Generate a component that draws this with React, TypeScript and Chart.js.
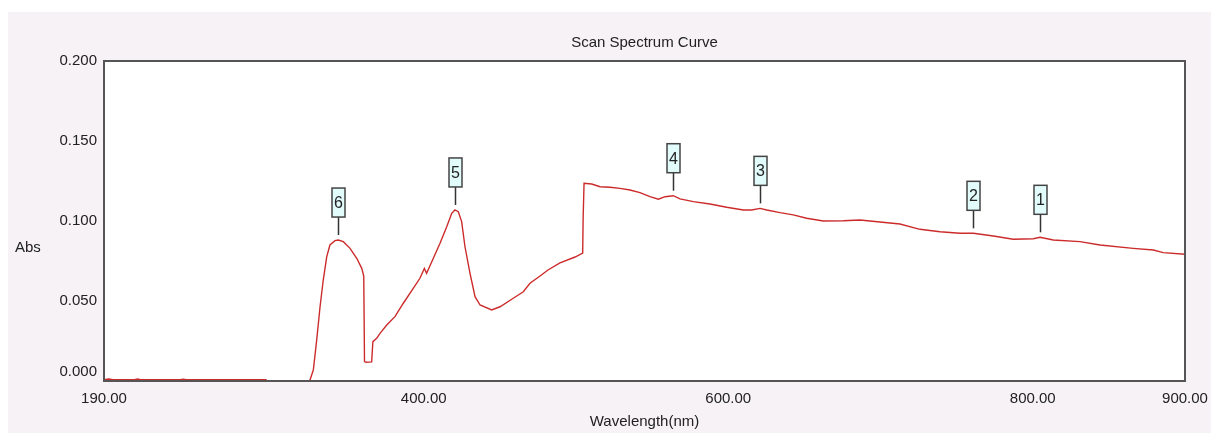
import React, { useEffect, useRef } from 'react';
import { Chart, registerables } from 'chart.js';

Chart.register(...registerables);

const wavelengths = [
  190, 193, 196, 210, 212, 214, 240, 242, 244, 270, 296.4, 296.6, 310, 324.5,
  325.3, 327.5, 329.7, 331.9, 334.0, 336.3, 338.4, 341.7, 343.9, 347.2, 351.6, 356.0, 359.3, 360.6,
  361.1, 362.1, 365.8, 366.6, 369.1, 371.3, 375.7, 381.1, 386.6, 393.1, 397.5, 400.4, 401.9,
  406.3, 410.7, 415.1, 418.4, 420.5, 422.7, 424.9, 427.1, 430.4, 433.7, 437.0, 444.6, 450.1,
  458.8, 465.4, 469.8, 476.4, 481.6, 489.5, 499.4, 504.4, 504.7, 505.3, 510.3, 515.8, 522.3,
  528.9, 535.5, 542.0, 548.6, 554.1, 558.5, 563.9, 568.3, 577.1, 588.0, 599.0, 609.9, 615.4,
  620.9, 625.3, 634.0, 642.7, 651.5, 662.4, 675.6, 686.5, 712.8, 725.9, 739.1, 752.2, 761.0,
  774.1, 787.2, 800.4, 804.8, 813.5, 831.0, 844.2, 866.0, 879.2, 885.7, 900,
];

const absorbance = [
  0.0008, 0.0012, 0.0008, 0.0008, 0.0012, 0.0008, 0.0008, 0.0011, 0.0008, 0.0008, 0.0008, -0.006, -0.008, -0.004,
  0.0006, 0.0069, 0.0256, 0.0464, 0.0631, 0.0777, 0.085, 0.0877, 0.0881, 0.0871, 0.0829, 0.0767, 0.0704, 0.0656,
  0.0121, 0.0117, 0.0119, 0.0246, 0.0267, 0.0298, 0.035, 0.0402, 0.0486, 0.0579, 0.0642, 0.0704, 0.0673,
  0.0767, 0.0861, 0.0964, 0.1048, 0.1069, 0.1058, 0.0996, 0.0839, 0.0673, 0.0527, 0.0475, 0.0444, 0.0464,
  0.0517, 0.0558, 0.0611, 0.0656, 0.0694, 0.0738, 0.0775, 0.08, 0.102, 0.1236, 0.1231, 0.1214, 0.1211,
  0.1204, 0.1194, 0.1177, 0.1152, 0.1136, 0.1152, 0.1158, 0.1138, 0.1121, 0.1106, 0.1086, 0.1069, 0.1069,
  0.1079, 0.1069, 0.1052, 0.1038, 0.1017, 0.1, 0.1002, 0.1006, 0.0981, 0.0948, 0.0933, 0.0923, 0.0923,
  0.0906, 0.0886, 0.0889, 0.0898, 0.0881, 0.0871, 0.085, 0.0829, 0.0819, 0.0802, 0.0792,
];

const peakLabels = ['1', '2', '3', '4', '5', '6'];
const peakWavelengths = [804.8, 761.0, 620.9, 563.9, 420.5, 343.9];
const peakValues = [0.0898, 0.0923, 0.1079, 0.1158, 0.1069, 0.0881];

const xTickValues = [190, 400, 600, 800, 900];

const FONT = "'Liberation Sans', Arial, sans-serif";
const TEXT = '#222222';

export default function App() {
  const ref = useRef<HTMLCanvasElement | null>(null);

  useEffect(() => {
    document.documentElement.style.overflow = 'hidden';
    const canvas = ref.current;
    if (!canvas) return;

    const framePlugin = {
      id: 'frame',
      beforeDatasetsDraw(chart: any) {
        const { ctx, chartArea: a } = chart;
        ctx.save();
        ctx.fillStyle = '#ffffff';
        ctx.fillRect(a.left, a.top, a.right - a.left, a.bottom - a.top);
        ctx.restore();
      },
      afterDatasetsDraw(chart: any) {
        const { ctx, chartArea: a, scales } = chart;
        ctx.save();
        ctx.strokeStyle = '#555555';
        ctx.lineWidth = 2;
        ctx.strokeRect(a.left, a.top, a.right - a.left, a.bottom - a.top);

        // peak markers
        ctx.font = `16px ${FONT}`;
        ctx.textAlign = 'center';
        ctx.textBaseline = 'middle';
        for (let i = 0; i < peakLabels.length; i++) {
          const px = Math.round(scales.x.getPixelForValue(peakWavelengths[i])) + 0.5;
          const py = scales.y.getPixelForValue(peakValues[i]);
          const lineBottom = py - 5;
          const lineTop = lineBottom - 18;
          ctx.strokeStyle = '#333333';
          ctx.lineWidth = 1.5;
          ctx.beginPath();
          ctx.moveTo(px, lineBottom);
          ctx.lineTo(px, lineTop);
          ctx.stroke();
          const bw = 13;
          const bh = 29;
          ctx.fillStyle = '#e2fbfb';
          ctx.fillRect(px - bw / 2, lineTop - bh, bw, bh);
          ctx.strokeStyle = '#444444';
          ctx.strokeRect(px - bw / 2, lineTop - bh, bw, bh);
          ctx.fillStyle = TEXT;
          ctx.fillText(peakLabels[i], px, lineTop - bh / 2 + 1);
        }

        // horizontal y-axis caption
        ctx.font = `15px ${FONT}`;
        ctx.textAlign = 'left';
        ctx.fillStyle = TEXT;
        ctx.fillText('Abs', 7, 236);
        ctx.restore();
      },
    };

    const chart = new Chart(canvas, {
      type: 'line',
      data: {
        datasets: [
          {
            label: 'Abs',
            data: wavelengths.map((w, i) => ({ x: w, y: absorbance[i] })),
            borderColor: '#cc2b2b',
            borderWidth: 1.4,
            pointRadius: 0,
            tension: 0,
            fill: false,
            clip: 0,
          },
        ],
      },
      options: {
        animation: false,
        responsive: false,
        devicePixelRatio: 1,
        layout: { padding: { top: 0, right: 26, bottom: 0, left: 0 } },
        plugins: {
          legend: { display: false },
          tooltip: { enabled: false },
          title: {
            display: true,
            text: 'Scan Spectrum Curve',
            color: TEXT,
            font: { family: FONT, size: 15, weight: 'normal' },
            padding: { top: 22, bottom: 9 },
            fullSize: false,
          },
        },
        scales: {
          x: {
            type: 'linear',
            min: 190,
            max: 900,
            grid: { display: false, drawTicks: false },
            border: { display: false },
            afterBuildTicks: (scale: any) => {
              scale.ticks = xTickValues.map((v) => ({ value: v }));
            },
            afterFit: (scale: any) => {
              scale.height = 52;
              scale.paddingLeft = 0;
              scale.paddingRight = 0;
            },
            ticks: {
              autoSkip: false,
              maxRotation: 0,
              padding: 9,
              color: TEXT,
              font: { family: FONT, size: 15 },
              callback: (v: any) => Number(v).toFixed(2),
            },
            title: {
              display: true,
              text: 'Wavelength(nm)',
              color: TEXT,
              font: { family: FONT, size: 15 },
              padding: { top: 0, bottom: 2 },
            },
          },
          y: {
            type: 'linear',
            min: 0,
            max: 0.2,
            grid: { display: false, drawTicks: false },
            border: { display: false },
            afterFit: (scale: any) => {
              scale.width = 96;
              scale.paddingTop = 0;
              scale.paddingBottom = 0;
            },
            ticks: {
              stepSize: 0.05,
              padding: 7,
              color: TEXT,
              font: { family: FONT, size: 15 },
              callback: (v: any) => (Number(v) === 0 ? ['0.000', ''] : Number(v).toFixed(3)),
            },
          },
        },
      },
      plugins: [framePlugin],
    } as any);

    return () => {
      chart.destroy();
    };
  }, []);

  return (
    <div
      style={{
        position: 'fixed',
        left: 8,
        top: 12,
        width: 1203,
        height: 421,
        background: '#f6f2f5',
      }}
    >
      <canvas ref={ref} width={1203} height={421} style={{ display: 'block' }} />
    </div>
  );
}
